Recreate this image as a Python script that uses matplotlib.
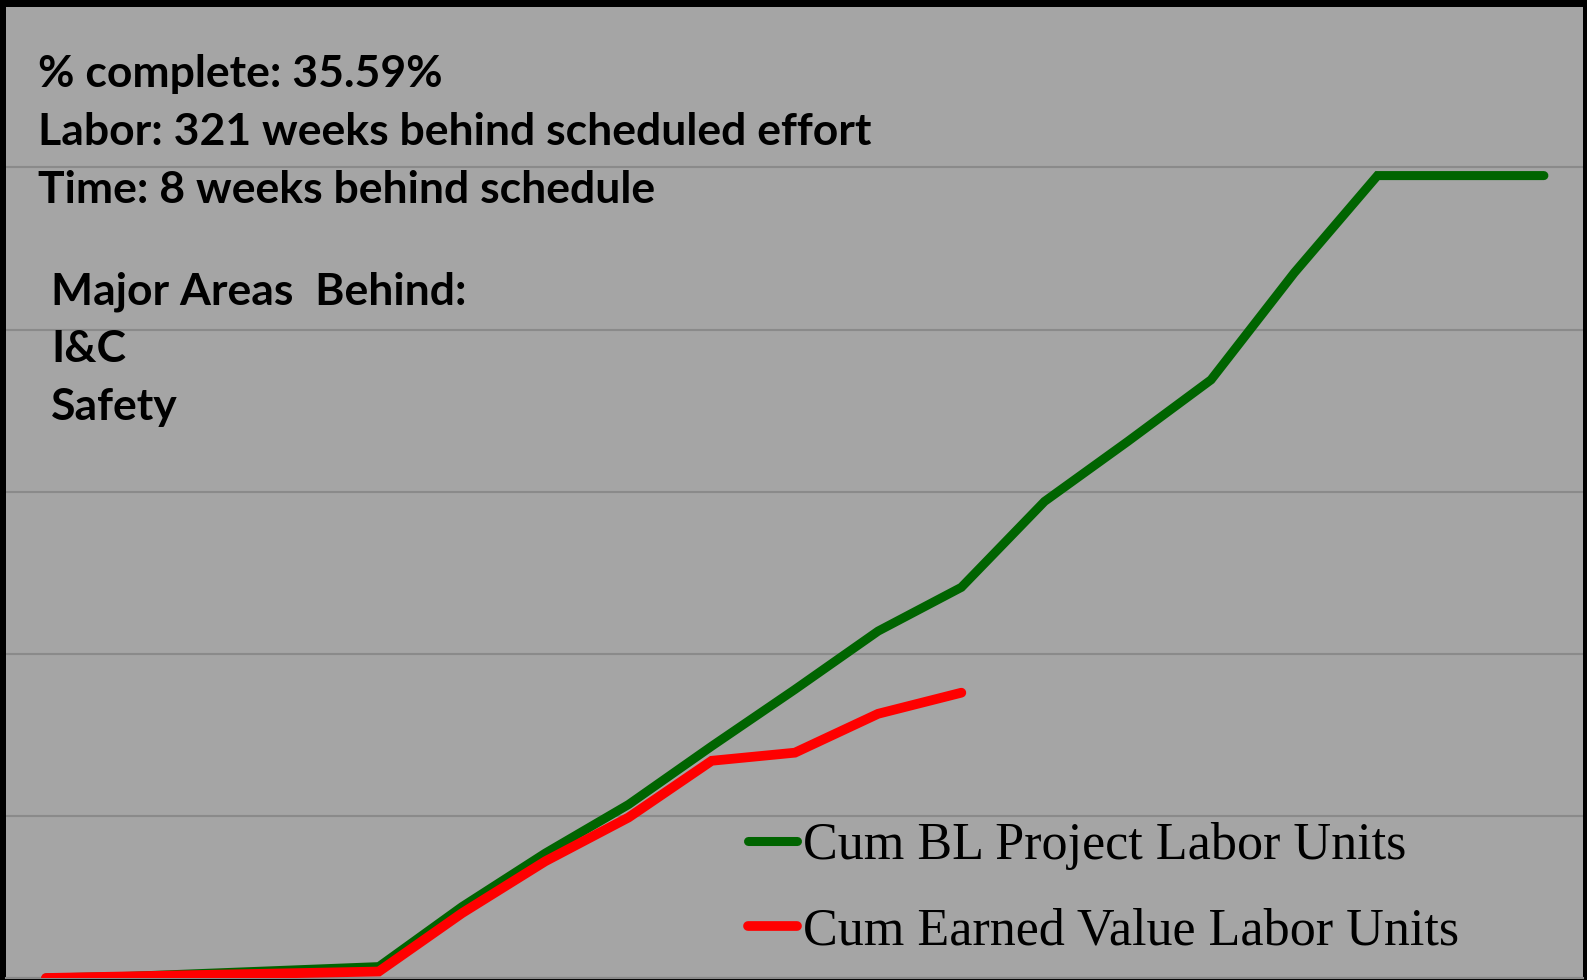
import matplotlib
matplotlib.use("Agg")
import matplotlib.pyplot as plt

# weekly periods (category index) and cumulative labour units (in grid units)
periods = list(range(19))
cum_bl = [0.0, 0.01, 0.03, 0.05, 0.07, 0.44, 0.77, 1.07, 1.43, 1.78,
          2.14, 2.41, 2.94, 3.31, 3.69, 4.35, 4.95, 4.95, 4.95]
cum_ev = [0.0, 0.01, 0.02, 0.03, 0.04, 0.40, 0.72, 0.99, 1.34, 1.39,
          1.63, 1.76]
series_labels = ["Cum BL Project Labor Units", "Cum Earned Value Labor Units"]

status_lines = ["% complete: 35.59%",
                "Labor: 321 weeks behind scheduled effort",
                "Time: 8 weeks behind schedule"]
areas_lines = ["Major Areas  Behind:", "I&C", "Safety"]

W, H = 1587, 980
fig = plt.figure(figsize=(W / 100, H / 100), dpi=100, facecolor="black")
ax = fig.add_axes([6 / W, 2 / H, (1583 - 6) / W, (978 - 7) / H])
ax.set_facecolor("#a5a5a5")

ax.plot(periods, cum_bl, color="#006400", lw=6.5, solid_capstyle="round",
        solid_joinstyle="miter", label=series_labels[0], zorder=3)
ax.plot(periods[:len(cum_ev)], cum_ev, color="#ff0000", lw=7,
        solid_capstyle="round", solid_joinstyle="miter",
        label=series_labels[1], zorder=4)

ax.set_xlim(-0.48, 18.47)
ax.set_ylim(0, 5.99)
ax.set_yticks([0, 1, 2, 3, 4, 5])
ax.grid(axis="y", color="#8a8a8a", lw=1.5)
ax.set_axisbelow(True)
ax.tick_params(left=False, bottom=False, labelleft=False, labelbottom=False)
for s in ["top", "right", "left"]:
    ax.spines[s].set_visible(False)
ax.spines["bottom"].set_color("#8a8a8a")
ax.spines["bottom"].set_linewidth(1.5)

# status text
for i, t in enumerate(status_lines):
    fig.text(38 / W, 1 - (87 + 58 * i) / H, t, fontsize=32, fontweight="bold",
             family="Lato", va="baseline")
for i, t in enumerate(areas_lines):
    fig.text(51 / W, 1 - (304 + 58 * i) / H, t, fontsize=32, fontweight="bold",
             family="Lato", va="baseline")

leg = ax.legend(loc="upper left", bbox_to_anchor=(748 / W, 1 - 822 / H),
                bbox_transform=fig.transFigure, frameon=False,
                prop={"family": "Liberation Serif", "size": 37.5},
                handlelength=0.95, handletextpad=0.1, labelspacing=0.72,
                borderpad=0, borderaxespad=0)

fig.savefig("out.png", dpi=100, facecolor="black")
